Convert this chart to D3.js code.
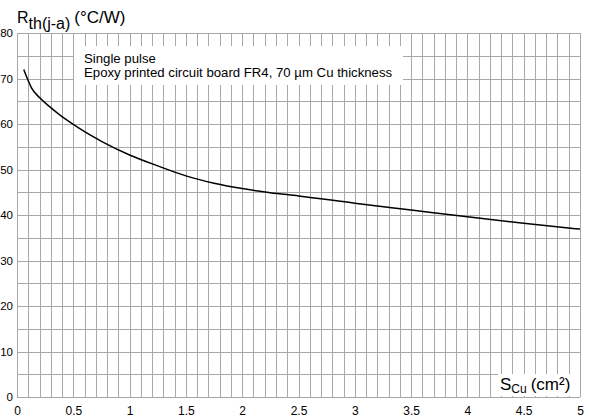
<!DOCTYPE html>
<html><head><meta charset="utf-8">
<script src="https://cdn.jsdelivr.net/npm/d3@7"></script>
<style>
body{margin:0;background:#fff;}
svg{display:block;font-family:"Liberation Sans",Arial,sans-serif;}
</style></head>
<body>
<div id="chart"></div>
<script>
const xTicks = [0, 0.5, 1, 1.5, 2, 2.5, 3, 3.5, 4, 4.5, 5];
const yTicks = [0, 10, 20, 30, 40, 50, 60, 70, 80];
const areaCu = [0.06, 0.1, 0.13, 0.2, 0.3, 0.4, 0.5, 0.6, 0.75, 1.0, 1.25, 1.5, 1.75, 2.0, 2.25, 2.5, 3.0, 3.5, 4.0, 4.5, 5.0];
const rthJA  = [72, 69.5, 67.9, 65.8, 63.6, 61.6, 59.9, 58.3, 56.2, 53.2, 50.8, 48.6, 47.0, 45.8, 44.9, 44.2, 42.6, 41.1, 39.6, 38.2, 36.9];
const notes = ["Single pulse", "Epoxy printed circuit board FR4, 70 µm Cu thickness"];

const W = 589, H = 418;
const m = {left: 17, right: 9, top: 33, bottom: 21};
const w = W - m.left - m.right, h = H - m.top - m.bottom;

const svg = d3.select("#chart").append("svg").attr("width", W).attr("height", H);
const g = svg.append("g").attr("transform", `translate(${m.left},${m.top})`);

const x = d3.scaleLinear().domain([0, 5]).range([0, w]);
const y = d3.scaleLinear().domain([0, 80]).range([h, 0]);

const gridColor = "#a8a8a8";

// vertical grid (every 0.1)
const xg = g.append("g").attr("transform", `translate(0,${h})`)
  .call(d3.axisBottom(x).tickValues(d3.range(0, 51).map(i => i / 10)).tickSize(-h).tickFormat("").tickSizeOuter(0));
xg.select(".domain").remove();
xg.selectAll("line").attr("stroke", gridColor).attr("shape-rendering", "crispEdges");

// horizontal grid (every 5)
const yg = g.append("g")
  .call(d3.axisLeft(y).tickValues(d3.range(0, 81, 5)).tickSize(-w).tickFormat("").tickSizeOuter(0));
yg.select(".domain").remove();
yg.selectAll("line").attr("stroke", gridColor).attr("shape-rendering", "crispEdges");

// tick labels
const xa = g.append("g").attr("transform", `translate(0,${h})`)
  .call(d3.axisBottom(x).tickValues(xTicks).tickSize(0).tickPadding(9).tickFormat(d => String(d)));
xa.select(".domain").remove();
xa.selectAll("text").attr("font-size", 12).attr("fill", "#000").attr("font-family", "Liberation Sans, Arial, sans-serif");

const ya = g.append("g")
  .call(d3.axisLeft(y).tickValues(yTicks).tickSize(0).tickPadding(4).tickFormat(d => String(d)));
ya.select(".domain").remove();
ya.selectAll("text").attr("font-size", 11.5).attr("fill", "#000").attr("font-family", "Liberation Sans, Arial, sans-serif");

// annotation box
g.append("rect").attr("x", 74 - m.left).attr("y", 46 - m.top).attr("width", 329).attr("height", 39).attr("fill", "#fff");
const nt = g.append("text").attr("font-size", 13.2).attr("fill", "#000");
notes.forEach((t, i) => {
  nt.append("tspan").attr("x", 84 - m.left).attr("y", 63 - m.top + i * 14).text(t);
});

// curve
const pts = areaCu.map((v, i) => [v, rthJA[i]]);
g.append("path").datum(pts)
  .attr("fill", "none").attr("stroke", "#000").attr("stroke-width", 1.5)
  .attr("d", d3.line().x(d => x(d[0])).y(d => y(d[1])).curve(d3.curveMonotoneX));

// x label box
g.append("rect").attr("x", 498 - m.left).attr("y", 374 - m.top).attr("width", 82).attr("height", 22).attr("fill", "#fff");
const xl = g.append("text").attr("x", 500 - m.left).attr("y", 390 - m.top).attr("font-size", 17).attr("fill", "#000");
xl.append("tspan").text("S");
xl.append("tspan").attr("font-size", 12).attr("dy", 3).text("Cu");
xl.append("tspan").attr("dy", -3).attr("dx", 4).text("(cm²)");

// y label
const yl = svg.append("text").attr("x", 17).attr("y", 23).attr("font-size", 16).attr("fill", "#000");
yl.append("tspan").text("R");
yl.append("tspan").attr("font-size", 16).attr("dy", 6).text("th(j-a)");
yl.append("tspan").attr("font-size", 17).attr("dy", -6).attr("dx", 4).text("(°C/W)");
</script>
</body></html>
